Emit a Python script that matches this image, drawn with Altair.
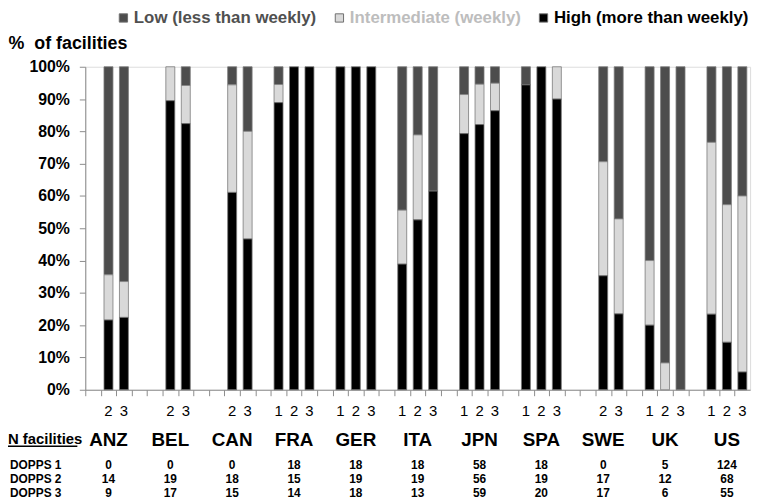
import altair as alt
import pandas as pd

countries = ["ANZ", "BEL", "CAN", "FRA", "GER", "ITA", "JPN", "SPA", "SWE", "UK", "US"]
waves = [1, 2, 3]
levels = ["Low (less than weekly)", "Intermediate (weekly)", "High (more than weekly)"]
level_colors = ["#4d4d4d", "#d9d9d9", "#000000"]
legend_text_colors = ["#505050", "#bdbdbd", "#000000"]

# % of facilities, ordered country x wave (DOPPS 1, 2, 3); None = not in that wave
high_pct = [None, 21.6, 22.4,  None, 89.5, 82.4,  None, 61.1, 46.7,
            88.9, 100, 100,    100, 100, 100,     38.9, 52.6, 61.5,
            79.3, 82.1, 86.4,  94.4, 100, 90.0,   None, 35.3, 23.5,
            20.0, 0, 0,        23.4, 14.7, 5.5]
inter_pct = [None, 14.0, 11.1, None, 10.5, 11.8,  None, 33.3, 33.3,
             5.6, 0, 0,        0, 0, 0,           16.7, 26.3, 0,
             12.1, 12.5, 8.5,  0, 0, 10.0,        None, 35.3, 29.4,
             20.0, 8.3, 0,     53.2, 42.6, 54.5]
low_pct = [None, 64.4, 66.5,  None, 0, 5.8,      None, 5.6, 20.0,
           5.5, 0, 0,         0, 0, 0,           44.4, 21.1, 38.5,
           8.6, 5.4, 5.1,     5.6, 0, 0,         None, 29.4, 47.1,
           60.0, 91.7, 100,   23.4, 42.7, 40.0]

n_dopps1 = [0, 0, 0, 18, 18, 18, 58, 18, 0, 5, 124]
n_dopps2 = [14, 19, 18, 15, 19, 19, 56, 19, 17, 12, 68]
n_dopps3 = [9, 17, 15, 14, 18, 13, 59, 20, 17, 6, 55]

# x slots: three waves per country plus a spacer between countries
slots = []
for i, c in enumerate(countries):
    for w in waves:
        slots.append(f"{c} {w}")
    if i < len(countries) - 1:
        slots.append(f"{c} gap")

bar_rows = []
wave_rows = []
k = 0
for c in countries:
    for w in waves:
        vals = [low_pct[k], inter_pct[k], high_pct[k]]
        if high_pct[k] is not None:
            wave_rows.append({"slot": f"{c} {w}", "wave": str(w)})
            for order, (lvl, v) in enumerate(zip(levels, vals)):
                if v > 0:
                    bar_rows.append({"slot": f"{c} {w}", "level": lvl,
                                     "pct": v, "ord": 2 - order})
        k += 1
bars_df = pd.DataFrame(bar_rows)
waves_df = pd.DataFrame(wave_rows)
country_df = pd.DataFrame({"slot": [f"{c} 2" for c in countries], "country": countries})
table_rows = [("DOPPS 1", n_dopps1), ("DOPPS 2", n_dopps2), ("DOPPS 3", n_dopps3)]

W, H = 671, 326
FONT = "Liberation Sans"
PI = 0.42
STEP = W / len(slots)

xscale = alt.Scale(domain=slots, paddingInner=PI, paddingOuter=PI / 2)
xenc = alt.X("slot:N", scale=xscale,
             axis=alt.Axis(labels=False, title=None, domainColor="#8c8c8c",
                           tickColor="#8c8c8c", tickSize=6,
                           tickOffset=-STEP * PI / 2, bandPosition=0))

label_expr = ("datum.label == '%s' ? '%s' : datum.label == '%s' ? '%s' : '%s'"
              % (levels[0], legend_text_colors[0], levels[1], legend_text_colors[1],
                 legend_text_colors[2]))

bars = alt.Chart(bars_df).mark_bar(stroke="#7a7a7a", strokeWidth=0.8).encode(
    x=xenc,
    y=alt.Y("pct:Q", stack="zero",
            scale=alt.Scale(domain=[0, 100], nice=False),
            axis=alt.Axis(values=list(range(0, 101, 10)), labelExpr="datum.value + '%'",
                          grid=False, domainColor="#8c8c8c", tickColor="#8c8c8c",
                          tickSize=6, labelFont=FONT, labelFontWeight="bold",
                          labelFontSize=16, labelColor="#000000", labelPadding=10,
                          title="%\u00a0 of facilities", titleAngle=0, titleAlign="left",
                          titleBaseline="middle", titleX=-78, titleY=-23,
                          titleFont=FONT, titleFontSize=18, titleFontWeight="bold",
                          titleColor="#000000")),
    color=alt.Color("level:N", scale=alt.Scale(domain=levels, range=level_colors),
                    legend=alt.Legend(title=None, orient="none", direction="horizontal",
                                      legendX=30, legendY=-58, symbolType="square",
                                      symbolSize=70, symbolStrokeColor="#6f6f6f",
                                      symbolStrokeWidth=1, labelFont=FONT,
                                      labelFontSize=17, labelFontWeight="bold",
                                      labelOffset=2, columnPadding=14,
                                      labelLimit=400,
                                      labelColor=alt.ExprRef(label_expr))),
    order=alt.Order("ord:Q"),
)

wave_text = alt.Chart(waves_df).mark_text(font=FONT, fontSize=15, color="#000000",
                                          baseline="middle").encode(
    x=alt.X("slot:N", scale=xscale), y=alt.value(H + 21), text="wave:N")

country_text = alt.Chart(country_df).mark_text(font=FONT, fontSize=19, fontWeight="bold",
                                               color="#000000", baseline="middle").encode(
    x=alt.X("slot:N", scale=xscale), y=alt.value(H + 51), text="country:N")

layers = [bars, wave_text, country_text]
row_offsets = [76, 90, 104]
for (name, counts), off in zip(table_rows, row_offsets):
    df = pd.DataFrame({"slot": [f"{c} 2" for c in countries], "n": counts})
    layers.append(alt.Chart(df).mark_text(font=FONT, fontSize=12, fontWeight="bold",
                                          color="#000000", baseline="middle").encode(
        x=alt.X("slot:N", scale=xscale), y=alt.value(H + off), text="n:Q"))
    layers.append(alt.Chart(pd.DataFrame({"t": [name]})).mark_text(
        font=FONT, fontSize=12, fontWeight="bold", color="#000000", align="left",
        baseline="middle").encode(x=alt.value(-76), y=alt.value(H + off), text="t:N"))

nf = pd.DataFrame({"t": ["N facilities"]})
layers.append(alt.Chart(nf).mark_text(font=FONT, fontSize=15, fontWeight="bold",
                                      color="#000000", align="left",
                                      baseline="middle").encode(
    x=alt.value(-78), y=alt.value(H + 50), text="t:N"))
layers.append(alt.Chart(nf).mark_rule(color="#000000", strokeWidth=1.5).encode(
    x=alt.value(-78), x2=alt.value(-8), y=alt.value(H + 57)))

chart = alt.layer(*layers).properties(
    width=W, height=H,
    autosize=alt.AutoSizeParams(type="none"),
    padding={"left": 78, "top": 57, "right": 10, "bottom": 113},
).configure_view(stroke=None).configure(background="#ffffff")

chart.save("out.html", embed_options={"renderer": "svg", "actions": False})
